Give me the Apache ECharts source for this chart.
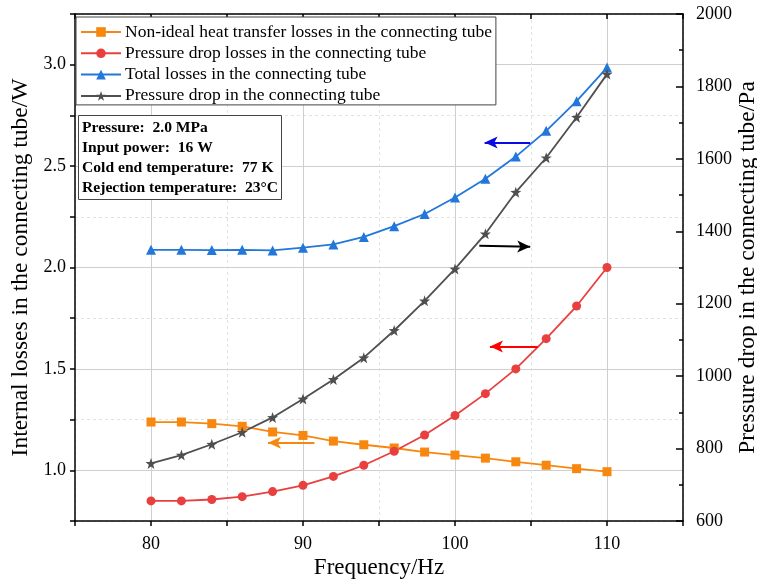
<!DOCTYPE html>
<html>
<head>
<meta charset="utf-8">
<script src="https://cdn.jsdelivr.net/npm/echarts@6/dist/echarts.min.js"></script>
<style>
  html, body { margin: 0; padding: 0; background: #fff; }
  #main { width: 757px; height: 582px; }
</style>
</head>
<body>
<div id="main"></div>
<script>
// frequency points (Hz)
const freq = [80, 82, 84, 86, 88, 90, 92, 94, 96, 98, 100, 102, 104, 106, 108, 110]
// losses, W (left axis)
const heatLoss = [1.238, 1.238, 1.230, 1.217, 1.189, 1.172, 1.144, 1.126, 1.110, 1.090, 1.075, 1.060, 1.042, 1.025, 1.008, 0.993]
const dropLoss = [0.849, 0.849, 0.856, 0.870, 0.895, 0.926, 0.970, 1.025, 1.094, 1.174, 1.270, 1.378, 1.500, 1.649, 1.810, 2.000]
const totalLoss = [2.087, 2.087, 2.086, 2.087, 2.084, 2.098, 2.114, 2.151, 2.204, 2.264, 2.345, 2.438, 2.547, 2.674, 2.820, 2.986]
// pressure drop, Pa (right axis)
const pressureDrop = [759, 782, 812, 845, 886, 937, 991, 1051, 1126, 1208, 1296, 1393, 1508, 1603, 1715, 1834]

// tick labels
const xLabels = [80, 90, 100, 110]
const leftLabels = [1.0, 1.5, 2.0, 2.5, 3.0]

const names = [
  'Non-ideal heat transfer losses in the connecting tube',
  'Pressure drop losses in the connecting tube',
  'Total losses in the connecting tube',
  'Pressure drop in the connecting tube'
]
const infoLines = [
  'Pressure:  2.0 MPa',
  'Input power:  16 W',
  'Cold end temperature:  77 K',
  'Rejection temperature:  23°C'
]

const serif = "'Liberation Serif', 'Times New Roman', serif"
const pair = (ys) => freq.map((f, i) => [f, ys[i]])

const arrow = (from, to, color) => ({
  silent: true,
  symbol: ['none', 'arrow'],
  symbolSize: [9, 13],
  label: { show: false },
  lineStyle: { color: color, width: 2, type: 'solid' },
  emphasis: { disabled: true },
  data: [[{ coord: from }, { coord: to }]]
})

const myChart = echarts.init(document.getElementById('main'), null, { renderer: 'canvas' })

const option = {
  animation: false,
  backgroundColor: '#fff',
  textStyle: { fontFamily: serif },
  title: {
    text: infoLines.join('\n'),
    left: 78,
    top: 115,
    padding: [3, 4, 2, 4],
    borderColor: '#444',
    borderWidth: 1,
    backgroundColor: '#fff',
    textStyle: { fontFamily: serif, fontSize: 15.6, fontWeight: 'bold', color: '#000', lineHeight: 20 }
  },
  legend: {
    orient: 'vertical',
    left: 76,
    top: 17,
    padding: [6, 4, 0, 4],
    itemWidth: 40,
    itemHeight: 12,
    itemGap: 3.3,
    borderColor: '#444',
    borderWidth: 1,
    backgroundColor: '#fff',
    textStyle: { fontFamily: serif, fontSize: 17.5, color: '#000', padding: [0, 0, 0, -1] },
    data: names
  },
  grid: { left: 75, right: 74, top: 14, bottom: 61, containLabel: false, outerBoundsMode: 'none' },
  xAxis: [
    {
      type: 'value', min: 75, max: 115, interval: 5, position: 'bottom',
      name: 'Frequency/Hz', nameLocation: 'middle', nameGap: 35, nameMoveOverlap: false,
      nameTextStyle: { fontFamily: serif, fontSize: 23, color: '#000' },
      axisLine: { lineStyle: { color: '#000', width: 1.5 } },
      axisTick: { inside: false, length: 5, lineStyle: { color: '#000', width: 1.5 } },
      axisLabel: {
        margin: 14, fontFamily: serif, fontSize: 18, color: '#000',
        formatter: v => (xLabels.indexOf(v) >= 0 ? String(v) : '')
      },
      splitLine: { show: true, lineStyle: { color: ['rgba(0,0,0,0)', '#cfcfcf'], width: 1 } }
    },
    {
      // top frame, also carries the dashed minor grid
      type: 'value', min: 75, max: 115, interval: 10, position: 'top',
      axisLine: { lineStyle: { color: '#000', width: 1.5 } },
      axisTick: { inside: true, length: 5, lineStyle: { color: '#000', width: 1.5 } },
      minorTick: { show: true, splitNumber: 2, length: 5, lineStyle: { color: '#000', width: 1.5 } },
      axisLabel: { show: false },
      splitLine: { show: true, lineStyle: { color: '#e2e2e2', width: 1, type: [3, 3] } }
    }
  ],
  yAxis: [
    {
      type: 'value', min: 0.75, max: 3.25, interval: 0.25, position: 'left',
      name: 'Internal losses in the connecting tube/W', nameLocation: 'middle', nameGap: 42, nameMoveOverlap: false,
      nameTextStyle: { fontFamily: serif, fontSize: 23.5, color: '#000' },
      axisLine: { show: true, lineStyle: { color: '#000', width: 1.5 } },
      axisTick: { show: true, inside: false, length: 5, lineStyle: { color: '#000', width: 1.5 } },
      axisLabel: {
        margin: 9, fontFamily: serif, fontSize: 18, color: '#000',
        formatter: v => (leftLabels.some(l => Math.abs(l - v) < 1e-6) ? v.toFixed(1) : '')
      },
      splitLine: { show: true, lineStyle: { color: ['rgba(0,0,0,0)', '#cfcfcf'], width: 1 } }
    },
    {
      type: 'value', min: 600, max: 2000, interval: 200, position: 'right',
      name: 'Pressure drop in the connecting tube/Pa', nameLocation: 'middle', nameGap: 53, nameMoveOverlap: false,
      nameTextStyle: { fontFamily: serif, fontSize: 23.5, color: '#000' },
      axisLine: { show: true, lineStyle: { color: '#000', width: 1.5 } },
      axisTick: { show: true, inside: true, length: 7, lineStyle: { color: '#000', width: 1.5 } },
      minorTick: { show: true, splitNumber: 2, length: 4, lineStyle: { color: '#000', width: 1.5 } },
      axisLabel: { margin: 13, fontFamily: serif, fontSize: 18, color: '#000', formatter: v => String(v) },
      splitLine: { show: false }
    },
    {
      // hidden axis for the dashed minor horizontal grid
      type: 'value', min: 0.75, max: 3.25, interval: 0.5, position: 'left',
      axisLine: { show: false }, axisTick: { show: false }, axisLabel: { show: false },
      splitLine: { show: true, lineStyle: { color: '#e2e2e2', width: 1, type: [3, 3] } }
    }
  ],
  series: [
    {
      name: names[0], type: 'line', xAxisIndex: 0, yAxisIndex: 0,
      data: pair(heatLoss),
      symbol: 'rect', symbolSize: 9,
      lineStyle: { color: '#F7870F', width: 1.8 },
      itemStyle: { color: '#F7870F' },
      markLine: arrow([90.75, 1.136], [87.7, 1.136], '#F7870F'),
      z: 3
    },
    {
      name: names[1], type: 'line', xAxisIndex: 0, yAxisIndex: 0,
      data: pair(dropLoss),
      symbol: 'circle', symbolSize: 9,
      lineStyle: { color: '#E8403F', width: 1.8 },
      itemStyle: { color: '#E8403F' },
      markLine: arrow([105.45, 1.611], [102.3, 1.611], '#FF0000'),
      z: 3
    },
    {
      name: names[2], type: 'line', xAxisIndex: 0, yAxisIndex: 0,
      data: pair(totalLoss),
      symbol: 'triangle', symbolSize: 10,
      lineStyle: { color: '#2277DA', width: 1.8 },
      itemStyle: { color: '#2277DA' },
      markLine: arrow([104.95, 2.616], [101.95, 2.616], '#0A0AE6'),
      z: 3
    },
    {
      name: names[3], type: 'line', xAxisIndex: 0, yAxisIndex: 1,
      data: pair(pressureDrop),
      symbol: 'path://M0,-10 L2.35,-3.24 L9.51,-3.09 L3.8,1.24 L5.88,8.09 L0,4 L-5.88,8.09 L-3.8,1.24 L-9.51,-3.09 L-2.35,-3.24 Z',
      symbolSize: 11,
      lineStyle: { color: '#4F4F4F', width: 1.8 },
      itemStyle: { color: '#4F4F4F' },
      markLine: arrow([101.6, 1360], [104.95, 1357], '#000000'),
      z: 3
    }
  ]
}

option && myChart.setOption(option)
</script>
</body>
</html>
